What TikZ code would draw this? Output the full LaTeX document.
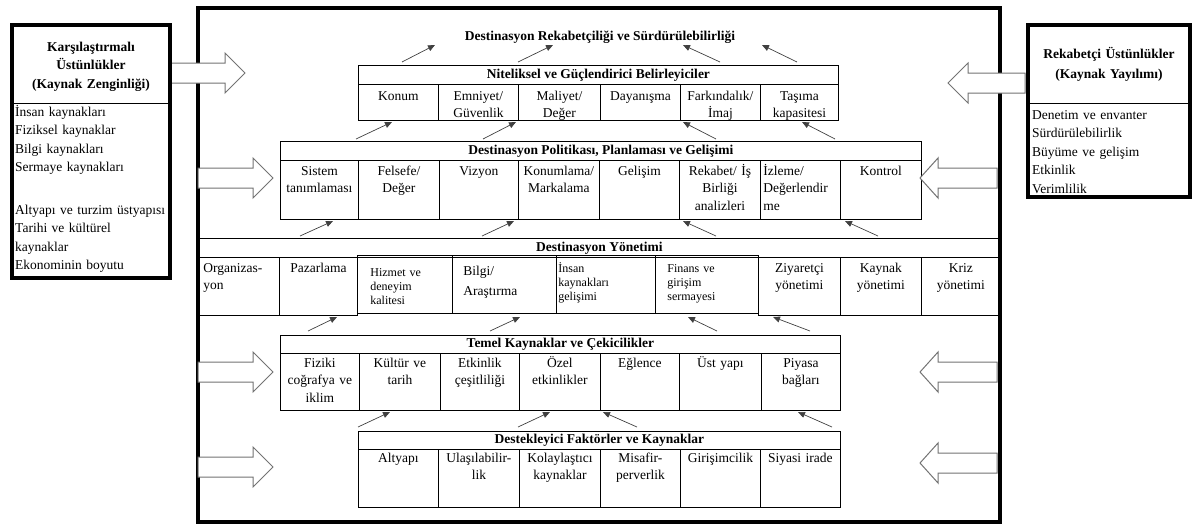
\documentclass[tikz,border=0pt]{standalone}
\usepackage{fontspec}
\setmainfont{Liberation Serif}
\usetikzlibrary{arrows.meta}

% hollow block arrow: tail x, head base x, tip x, centre y
\newcommand{\hollowarrow}[4]{%
  \draw[bigarrow] (#1,#4-10) -- (#2,#4-10) -- (#2,#4-20) -- (#3,#4)
    -- (#2,#4+20) -- (#2,#4+10) -- (#1,#4+10) -- cycle;
}

\begin{document}
\begin{tikzpicture}[x=1pt, y=-1pt, >={Triangle[length=7pt,width=6pt]},
  every node/.style={font=\fontsize{13.5}{17.5}\selectfont},
  frame/.style={line width=3.5pt},
  rule/.style={line width=0.8pt},
  head/.style={draw, rule, anchor=north west, inner sep=0pt, minimum height=19pt,
    font=\bfseries\fontsize{13.5}{17}\selectfont},
  cell/.style={draw, rule, anchor=north west, align=center, inner xsep=2pt,
    inner ysep=0pt, text width=76pt},
  r1/.style={cell, text height=16pt, text depth=20pt},
  r2/.style={cell, text height=15pt, text depth=44pt},
  r3/.style={cell, text height=15pt, text depth=43pt},
  r4/.style={cell, text height=14pt, text depth=43pt},
  r5/.style={cell, text height=13pt, text depth=45pt},
  small/.style={cell, align=left, font=\fontsize{12}{14}\selectfont,
    text height=17pt, text depth=41pt},
  flow/.style={->, line width=0.7pt, draw=black!75},
  bigarrow/.style={draw=black!55, fill=white, line width=1pt},
  list/.style={anchor=base west, align=left, inner sep=0pt, text width=152pt,
    font=\fontsize{13.5}{18.5}\selectfont},
  boxhead/.style={anchor=base, align=center, inner sep=0pt, text width=150pt,
    font=\bfseries\fontsize{13.5}{18.5}\selectfont}]
\useasboundingbox (0,0) rectangle (1198,528);

% outer frame
\draw[frame] (198,8) rectangle (1000,522);

\node[font=\bfseries\fontsize{13.5}{17}\selectfont, anchor=base] (title) at (600,40)
  {Destinasyon Rekabetçiliği ve Sürdürülebilirliği};

% Niteliksel
\node[head, minimum width=480pt] (nitelik) at (358,65) {Niteliksel ve Güçlendirici Belirleyiciler};
\node[r1] (konum) at (358,84) {Konum};
\node[r1] (emniyet) at (438,84) {Emniyet/\\Güvenlik};
\node[r1, text width=78pt] (maliyet) at (518,84) {Maliyet/\\Değer};
\node[r1] (dayanisma) at (600,84) {Dayanışma};
\node[r1] (farkindalik) at (680,84) {Farkındalık/\\İmaj};
\node[r1, text width=74pt] (tasima) at (760,84) {Taşıma\\kapasitesi};

% Politika
\node[head, minimum width=641pt] (politika) at (280,141) {Destinasyon Politikası, Planlaması ve Gelişimi};
\node[r2, text width=74pt] (sistem) at (280,160) {Sistem\\tanımlaması};
\node[r2, text width=77pt] (felsefe) at (358,160) {Felsefe/\\Değer};
\node[r2, text width=75pt] (vizyon) at (439,160) {Vizyon};
\node[r2, text width=77pt] (konumlama) at (518,160) {Konumlama/\\Markalama};
\node[r2] (gelisim) at (599,160) {Gelişim};
\node[r2, text width=77pt] (rekabet) at (679,160) {Rekabet/ İş\\Birliği\\analizleri};
\node[r2, align=left, inner xsep=3pt, text width=74pt] (izleme) at (760,160) {İzleme/\\Değerlendir\\me};
\node[r2, text width=77pt] (kontrol) at (840,160) {Kontrol};

% Yonetim
\node[head, minimum width=802pt] (yonetim) at (198,238) {Destinasyon Yönetimi};
\node[r3, align=left, inner xsep=5pt, text width=71pt] (organizasyon) at (198,257) {Organizas-\\yon};
\node[r3, text width=74pt] (pazarlama) at (279,257) {Pazarlama};
\node[small, inner xsep=13pt, text width=69pt, text height=21pt, text depth=37pt] (hizmet) at (357,255) {Hizmet ve\\deneyim\\kalitesi};
\node[r3, align=left, inner xsep=11pt, text width=82pt, font=\fontsize{13.5}{20}\selectfont,
  text height=20pt, text depth=38pt] (bilgi) at (452,255) {Bilgi/\\Araştırma};
\node[small, text width=95pt] (insan) at (556,255) {İnsan\\kaynakları\\gelişimi};
\node[small, inner xsep=12pt, text width=79pt] (finans) at (655,255) {Finans ve\\girişim\\sermayesi};
\node[r3, text width=78pt] (ziyaretci) at (758,257) {Ziyaretçi\\yönetimi};
\node[r3, text width=77pt] (kaynak) at (840,257) {Kaynak\\yönetimi};
\node[r3, text width=75pt] (kriz) at (921,257) {Kriz\\yönetimi};

% Temel kaynaklar
\node[head, minimum width=560pt, minimum height=18pt] (temel) at (280,335) {Temel Kaynaklar ve Çekicilikler};
\node[r4, text width=75pt] (fiziki) at (280,353) {Fiziki\\coğrafya ve\\iklim};
\node[r4, text width=77pt] (kultur) at (359,353) {Kültür ve\\tarih};
\node[r4, text width=75pt] (etkinlik) at (440,353) {Etkinlik\\çeşitliliği};
\node[r4, text width=77pt] (ozel) at (519,353) {Özel\\etkinlikler};
\node[r4, text width=75pt] (eglence) at (600,353) {Eğlence};
\node[r4, text width=78pt] (ustyapi) at (679,353) {Üst yapı};
\node[r4, text width=75pt] (piyasa) at (761,353) {Piyasa\\bağları};

% Destekleyici
\node[head, minimum width=482pt, minimum height=18pt] (destek) at (358,431) {Destekleyici Faktörler ve Kaynaklar};
\node[r5] (altyapi) at (358,449) {Altyapı};
\node[r5, text width=77pt] (ulasilabilir) at (438,449) {Ulaşılabilir-\\lik};
\node[r5, text width=77pt] (kolaylastici) at (519,449) {Kolaylaştıcı\\kaynaklar};
\node[r5] (misafir) at (600,449) {Misafir-\\perverlik};
\node[r5] (girisim) at (680,449) {Girişimcilik};
\node[r5] (siyasi) at (760,449) {Siyasi irade};

% small arrows between the levels
\foreach \i/\a/\b/\c/\d in {
  1/402/62/435/45, 2/518/62/553/45, 3/720/62/683/45, 4/797/62/762/45,
  5/356/139/392/122, 6/483/139/516/122, 7/716/139/683/122, 8/835/139/802/122,
  9/300/236/333/221, 10/482/236/514/221, 11/716/236/683/221, 12/878/236/845/221,
  13/308/331/337/317, 14/490/331/520/317, 15/717/331/688/317, 16/810/331/773/317,
  17/358/427/390/412, 18/518/427/550/412, 19/637/427/603/412, 20/832/427/798/412}
{
  \coordinate (t\i) at (\a,\b);
  \coordinate (h\i) at (\c,\d);
  \draw[flow] (t\i) -- (h\i);
}

% block arrows
\hollowarrow{169}{225}{245}{73}
\hollowarrow{198}{253}{273}{178}
\hollowarrow{198}{253}{273}{372}
\hollowarrow{198}{253}{273}{467}
\hollowarrow{1025}{968}{948}{83}
\hollowarrow{997}{938}{920}{178}
\hollowarrow{997}{938}{920}{372}
\hollowarrow{997}{938}{920}{463}

% left box
\draw[frame, fill=white] (12,25) rectangle (170,278);
\draw[rule] (12,103) -- (170,103);
\node[boxhead] (karsi) at (91,51) {Karşılaştırmalı\\Üstünlükler\\(Kaynak Zenginliği)};
\node[list] (kaynaklist) at (15,116) {İnsan kaynakları\\Fiziksel kaynaklar\\Bilgi kaynakları\\Sermaye kaynakları\\[24pt]Altyapı ve turzim üstyapısı\\Tarihi ve kültürel\\kaynaklar\\Ekonominin boyutu};

% right box
\draw[frame, fill=white] (1028,25) rectangle (1190,197);
\draw[rule] (1028,103) -- (1190,103);
\node[boxhead, font=\bfseries\fontsize{13.5}{20}\selectfont] (rekabetci) at (1109,58) {Rekabetçi Üstünlükler\\(Kaynak Yayılımı)};
\node[list] (yayilimlist) at (1032,119) {Denetim ve envanter\\Sürdürülebilirlik\\Büyüme ve gelişim\\Etkinlik\\Verimlilik};
\end{tikzpicture}
\end{document}
